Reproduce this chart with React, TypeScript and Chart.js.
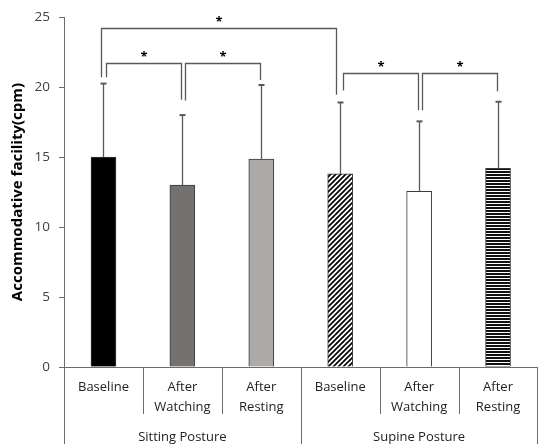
import React, { useEffect, useRef } from "react";
import { Chart, registerables } from "chart.js";

Chart.register(...registerables);

// ---- data ----
const categories: string[][] = [
  ["Baseline"],
  ["After", "Watching"],
  ["After", "Resting"],
  ["Baseline"],
  ["After", "Watching"],
  ["After", "Resting"],
];
const groupLabels = ["Sitting Posture", "Supine Posture"];
const groupStart = [0, 3];
const groupEnd = [2, 5];
const means = [15.0, 13.0, 14.85, 13.8, 12.55, 14.2];
const sds = [5.25, 5.0, 5.3, 5.1, 5.0, 4.75];
const yMin = 0;
const yMax = 25;
const yStep = 5;
const yTitle = "Accommodative facility(cpm)";

// significance brackets
const bracketFrom = [0, 0, 1, 3, 4];
const bracketTo = [3, 1, 2, 4, 5];
const bracketTop = [24.2, 21.75, 21.7, 21.0, 21.0];
const bracketLeftEnd = [20.7, 20.7, 19.05, 19.75, 18.35];
const bracketRightEnd = [19.45, 19.1, 20.5, 18.35, 19.7];
const bracketText = ["*", "*", "*", "*", "*"];

const FONT = "'Open Sans', Lato, sans-serif";
const AXIS = "#6b6b6b";
const LINE = "#595959";

function makeDiag(): CanvasPattern | string {
  const c = document.createElement("canvas");
  const n = 5;
  c.width = n;
  c.height = n;
  const x = c.getContext("2d");
  if (!x) return "#fff";
  x.fillStyle = "#fff";
  x.fillRect(0, 0, n, n);
  x.strokeStyle = "#000";
  x.lineWidth = 1.7;
  x.beginPath();
  x.moveTo(-1, n + 1);
  x.lineTo(n + 1, -1);
  x.moveTo(-1, 1);
  x.lineTo(1, -1);
  x.moveTo(n - 1, n + 1);
  x.lineTo(n + 1, n - 1);
  x.stroke();
  return x.createPattern(c, "repeat") || "#fff";
}

function makeHoriz(): CanvasPattern | string {
  const c = document.createElement("canvas");
  c.width = 3;
  c.height = 3;
  const x = c.getContext("2d");
  if (!x) return "#000";
  x.fillStyle = "#fff";
  x.fillRect(0, 0, 3, 3);
  x.fillStyle = "#111";
  x.fillRect(0, 0, 3, 2);
  return x.createPattern(c, "repeat") || "#000";
}

const overlay = {
  id: "overlay",
  afterDatasetsDraw(chart: any) {
    const { ctx, scales } = chart;
    const xs = scales.x;
    const ys = scales.y;
    ctx.save();
    // error bars
    ctx.strokeStyle = LINE;
    ctx.lineWidth = 1.3;
    means.forEach((m, i) => {
      const px = Math.round(xs.getPixelForValue(i)) + 0.5;
      const y0 = ys.getPixelForValue(m);
      const y1 = ys.getPixelForValue(m + sds[i]);
      ctx.beginPath();
      ctx.moveTo(px, y0);
      ctx.lineTo(px, y1);
      ctx.stroke();
      ctx.beginPath();
      ctx.lineWidth = 2;
      ctx.moveTo(px - 3, y1);
      ctx.lineTo(px + 3, y1);
      ctx.stroke();
      ctx.lineWidth = 1.3;
    });
    // brackets
    bracketFrom.forEach((f, k) => {
      const t = bracketTo[k];
      const long = t - f > 1;
      const lx = Math.round(xs.getPixelForValue(f)) + (long ? -2 : 3) + 0.5;
      const rx = Math.round(xs.getPixelForValue(t)) + (long ? -4 : -1) + 0.5;
      const ty = Math.round(ys.getPixelForValue(bracketTop[k])) + 0.5;
      const ly = ys.getPixelForValue(bracketLeftEnd[k]);
      const ry = ys.getPixelForValue(bracketRightEnd[k]);
      ctx.strokeStyle = LINE;
      ctx.beginPath();
      ctx.moveTo(lx, ly);
      ctx.lineTo(lx, ty);
      ctx.lineTo(rx, ty);
      ctx.lineTo(rx, ry);
      ctx.stroke();
      ctx.fillStyle = "#000";
      ctx.font = `bold 13px ${FONT}`;
      ctx.textAlign = "center";
      ctx.textBaseline = "alphabetic";
      ctx.fillText(bracketText[k], (lx + rx) / 2, ty - 2.5);
    });
    ctx.restore();
  },
  afterDraw(chart: any) {
    const { ctx, scales, chartArea } = chart;
    const xs = scales.x;
    const top = chartArea.bottom;
    const bottom = chart.height;
    const half = (xs.getPixelForValue(1) - xs.getPixelForValue(0)) / 2;
    ctx.save();
    ctx.strokeStyle = AXIS;
    ctx.lineWidth = 1;
    // inner dividers
    for (let i = 0; i < categories.length - 1; i++) {
      const px = Math.round(xs.getPixelForValue(i) + half) + 0.5;
      const isGroupEdge = groupEnd.includes(i);
      ctx.beginPath();
      ctx.moveTo(px, top);
      ctx.lineTo(px, isGroupEdge ? bottom : top + 47);
      ctx.stroke();
    }
    // outer borders
    const lpx = Math.round(chartArea.left) + 0.5;
    const rpx = Math.round(chartArea.right) - 0.5;
    ctx.beginPath();
    ctx.moveTo(lpx, top);
    ctx.lineTo(lpx, bottom);
    ctx.moveTo(rpx, top);
    ctx.lineTo(rpx, bottom);
    ctx.stroke();
    // group labels
    ctx.fillStyle = "#222";
    ctx.font = `13px ${FONT}`;
    ctx.textAlign = "center";
    ctx.textBaseline = "middle";
    groupLabels.forEach((g, k) => {
      const a = xs.getPixelForValue(groupStart[k]) - half;
      const b = xs.getPixelForValue(groupEnd[k]) + half;
      ctx.fillText(g, (a + b) / 2, top + 70);
    });
    // y title
    ctx.save();
    ctx.translate(18, (chartArea.top + chartArea.bottom) / 2);
    ctx.rotate(-Math.PI / 2);
    ctx.fillStyle = "#000";
    ctx.font = `bold 15px ${FONT}`;
    ctx.textAlign = "center";
    ctx.textBaseline = "middle";
    ctx.fillText(yTitle, 0, 0);
    ctx.restore();
    ctx.restore();
  },
};

export default function App() {
  const ref = useRef<HTMLCanvasElement | null>(null);
  useEffect(() => {
    document.body.style.margin = "0";
    const canvas = ref.current;
    if (!canvas) return;
    const fills = [
      "#000000",
      "#767171",
      "#aeaaaa",
      makeDiag(),
      "#ffffff",
      makeHoriz(),
    ];
    const chart = new Chart(canvas, {
      type: "bar",
      data: {
        labels: categories,
        datasets: [
          {
            data: means,
            backgroundColor: fills as any,
            borderColor: "#3a3a3a",
            borderWidth: 1,
            barThickness: 25,
          },
        ],
      },
      options: {
        animation: false,
        responsive: false,
        devicePixelRatio: 1,
        layout: { padding: { top: 17, right: 2.5, left: 0, bottom: 0 } },
        plugins: { legend: { display: false }, tooltip: { enabled: false } },
        scales: {
          x: {
            grid: { display: false, drawTicks: false },
            border: { display: true, color: AXIS, width: 1 },
            ticks: {
              color: "#222",
              font: { family: FONT, size: 13, lineHeight: "20px" },
              padding: 10,
              maxRotation: 0,
              autoSkip: false,
            },
            afterFit: (s: any) => {
              s.height = 77;
            },
          },
          y: {
            min: yMin,
            max: yMax,
            ticks: {
              stepSize: yStep,
              color: "#404040",
              font: { family: FONT, size: 13.5 },
              padding: 9,
            },
            grid: {
              display: true,
              drawOnChartArea: false,
              drawTicks: true,
              tickLength: 5,
              color: AXIS,
            },
            border: { display: true, color: AXIS, width: 1 },
            title: { display: false },
            afterFit: (s: any) => {
              s.width = 64;
            },
          },
        },
      },
      plugins: [overlay],
    });
    return () => chart.destroy();
  }, []);
  return <canvas ref={ref} width={540} height={444} style={{ display: "block" }} />;
}
